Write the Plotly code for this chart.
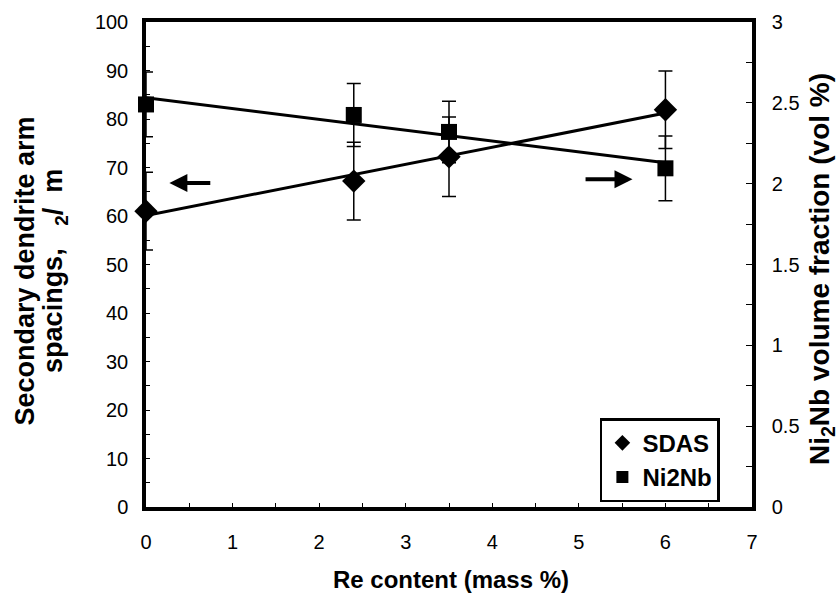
import numpy as np
import plotly.graph_objects as go

re_content = [0, 2.4, 3.5, 6]
sdas = [61.0, 67.2, 72.2, 81.9]
sdas_err = [8.0, 8.0, 8.2, 8.0]
ni2nb = [2.49, 2.425, 2.32, 2.095]
ni2nb_err = [0.2, 0.195, 0.19, 0.2]

x_ticks = [0, 1, 2, 3, 4, 5, 6, 7]
y1_ticks = list(range(0, 101, 10))
y2_ticks = [0, 0.5, 1, 1.5, 2, 2.5, 3]

x_title = "Re content (mass %)"
y1_title_1 = "Secondary dendrite arm"
y1_title_2 = "spacings,   <sub>2</sub>/  m"
y2_title = "Ni<sub>2</sub>Nb volume fraction (vol %)"

FONT = "Liberation Sans, Arial, sans-serif"

# linear trend lines
p1 = np.polyfit(re_content, sdas, 1)
p2 = np.polyfit(re_content, ni2nb, 1)
xf = [min(re_content), max(re_content)]

fig = go.Figure()
fig.add_trace(go.Scatter(x=xf, y=list(np.polyval(p1, xf)), mode="lines",
                         line=dict(color="black", width=3), showlegend=False,
                         hoverinfo="skip", cliponaxis=False))
fig.add_trace(go.Scatter(x=xf, y=list(np.polyval(p2, xf)), mode="lines",
                         line=dict(color="black", width=3), showlegend=False,
                         yaxis="y2", hoverinfo="skip", cliponaxis=False))
fig.add_trace(go.Scatter(x=re_content, y=sdas, mode="markers", name="SDAS",
                         marker=dict(symbol="diamond", size=18, color="black"),
                         cliponaxis=False,
                         error_y=dict(type="data", array=sdas_err, color="black",
                                      thickness=1.5, width=7)))
fig.add_trace(go.Scatter(x=re_content, y=ni2nb, mode="markers", name="Ni2Nb",
                         marker=dict(symbol="square", size=16, color="black"),
                         cliponaxis=False,
                         error_y=dict(type="data", array=ni2nb_err, color="black",
                                      thickness=1.5, width=7),
                         yaxis="y2"))

# direction arrows
fig.add_annotation(x=0.27, y=66.8, ax=0.76, ay=66.8, xref="x", yref="y",
                   axref="x", ayref="y", showarrow=True, arrowhead=2,
                   arrowsize=0.9, arrowwidth=4, arrowcolor="black", text="")
fig.add_annotation(x=5.62, y=67.6, ax=5.06, ay=67.6, xref="x", yref="y",
                   axref="x", ayref="y", showarrow=True, arrowhead=2,
                   arrowsize=0.9, arrowwidth=4, arrowcolor="black", text="")

# axis titles
fig.add_annotation(text="<b>" + x_title + "</b>", xref="paper", yref="paper",
                   x=0.5025, y=-0.15, xanchor="center", yanchor="middle",
                   showarrow=False, font=dict(size=24))
fig.add_annotation(text="<b>" + y1_title_1 + "</b>", xref="paper", yref="paper",
                   x=-0.2, y=0.487, xanchor="center", yanchor="middle",
                   textangle=-90, showarrow=False, font=dict(size=27))
fig.add_annotation(text="<b>" + y1_title_2 + "</b>", xref="paper", yref="paper",
                   x=-0.15, y=0.487, xanchor="center", yanchor="middle",
                   textangle=-90, showarrow=False, font=dict(size=27))
fig.add_annotation(text="<b>" + y2_title + "</b>", xref="paper", yref="paper",
                   x=1.115, y=0.49, xanchor="center", yanchor="middle",
                   textangle=-90, showarrow=False, font=dict(size=28))

fig.update_layout(
    width=840, height=595,
    margin=dict(l=146, r=88, t=22, b=88),
    paper_bgcolor="white", plot_bgcolor="white",
    font=dict(family=FONT, color="black", size=20),
    xaxis=dict(range=[0, 7], tickvals=x_ticks, ticks="inside", ticklen=4,
               tickwidth=1, tickcolor="black", ticklabelstandoff=14,
               minor=dict(dtick=0.5, ticks="inside", ticklen=4, tickcolor="black"),
               showline=True, linecolor="black", linewidth=3.5, mirror=True,
               showgrid=False, zeroline=False, automargin=False,
               tickfont=dict(size=20)),
    yaxis=dict(range=[0, 100], tickvals=y1_ticks, ticks="inside", ticklen=4,
               tickcolor="black", ticklabelstandoff=10,
               minor=dict(dtick=5, ticks="inside", ticklen=4, tickcolor="black"),
               showline=True, automargin=False,
               linecolor="black", linewidth=3.5, mirror=False,
               showgrid=False, zeroline=False, tickfont=dict(size=20)),
    yaxis2=dict(range=[0, 3], tickvals=y2_ticks, overlaying="y", side="right",
                ticks="inside", ticklen=6, tickcolor="black", ticklabelstandoff=12,
                minor=dict(dtick=0.25, ticks="inside", ticklen=6, tickcolor="black"),
                showline=True, linecolor="black", linewidth=3.5, automargin=False,
                showgrid=False, zeroline=False, tickfont=dict(size=20)),
    legend=dict(x=0.749, y=0.183, xanchor="left", yanchor="top",
                bgcolor="white", bordercolor="black", borderwidth=2.5,
                font=dict(size=24, family=FONT, weight="bold"),
                itemsizing="constant", tracegroupgap=0, itemwidth=30),
)
fig.write_html("out.html")
